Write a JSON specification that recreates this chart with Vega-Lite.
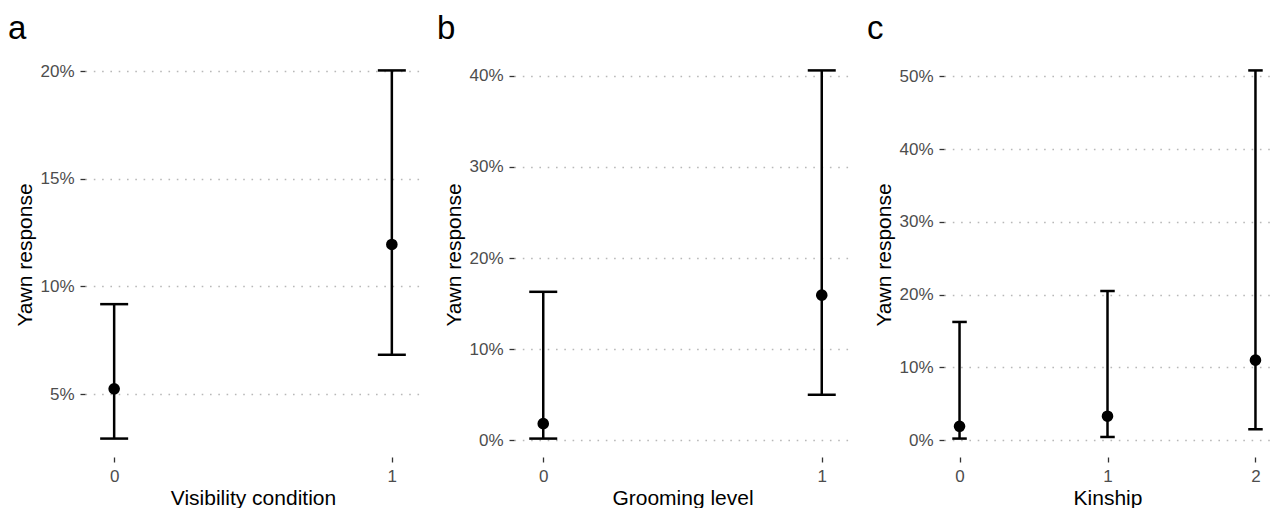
{
  "$schema": "https://vega.github.io/schema/vega-lite/v6.json",
  "background": "white",
  "padding": {"left": 7, "top": 13, "right": 0, "bottom": 0},
  "spacing": 15,
  "config": {
    "font": "Liberation Sans",
    "view": {"stroke": null},
    "axis": {
      "domain": false,
      "tickColor": "#333333",
      "tickSize": 5,
      "tickWidth": 1.3,
      "labelPadding": 6,
      "labelFontSize": 17,
      "labelColor": "#4d4d4d",
      "labelFont": "Liberation Sans",
      "titleFont": "Liberation Sans",
      "titleFontSize": 21,
      "titleFontWeight": "normal",
      "titleColor": "#000000"
    },
    "axisY": {"grid": true, "gridDash": [1.6, 6.7], "gridColor": "#b8b8b8", "gridWidth": 1.4, "titlePadding": 4},
    "axisX": {"grid": false, "titlePadding": 3},
    "title": {"fontSize": 33, "fontWeight": "normal", "anchor": "start", "frame": "bounds", "dx": -7, "offset": 6, "color": "#000000", "font": "Liberation Sans"}
  },
  "datasets": {
    "visibility": [
      {"x": 0, "est": 5.25, "lo": 2.94, "hi": 9.18},
      {"x": 1, "est": 11.95, "lo": 6.83, "hi": 20.03}
    ],
    "grooming": [
      {"x": 0, "est": 1.83, "lo": 0.19, "hi": 16.3},
      {"x": 1, "est": 15.93, "lo": 5.0, "hi": 40.6}
    ],
    "kinship": [
      {"x": 0, "est": 1.92, "lo": 0.23, "hi": 16.25},
      {"x": 1, "est": 3.3, "lo": 0.45, "hi": 20.5},
      {"x": 2, "est": 11.0, "lo": 1.51, "hi": 50.8}
    ]
  },
  "hconcat": [
    {
      "title": "a",
      "width": 336,
      "height": 405,
      "data": {"name": "visibility"},
      "encoding": {
        "x": {"field": "x", "type": "quantitative", "title": "Visibility condition",
          "scale": {"domain": [-0.105, 1.105], "nice": false, "zero": false},
          "axis": {"values": [0, 1], "format": "d"}}
      },
      "layer": [
        {"mark": {"type": "rule", "color": "black", "strokeWidth": 2.5},
         "encoding": {"y": {"field": "lo", "type": "quantitative", "title": "Yawn response",
            "scale": {"domain": [2.085, 20.885], "nice": false, "zero": false},
            "axis": {"values": [5, 10, 15, 20], "labelExpr": "datum.value + '%'"}},
           "y2": {"field": "hi"}}},
        {"mark": {"type": "tick", "orient": "horizontal", "size": 28, "thickness": 2.5, "color": "black", "opacity": 1},
         "encoding": {"y": {"field": "lo", "type": "quantitative", "title": "Yawn response"}}},
        {"mark": {"type": "tick", "orient": "horizontal", "size": 28, "thickness": 2.5, "color": "black", "opacity": 1},
         "encoding": {"y": {"field": "hi", "type": "quantitative", "title": "Yawn response"}}},
        {"mark": {"type": "point", "filled": true, "size": 135, "color": "black", "opacity": 1},
         "encoding": {"y": {"field": "est", "type": "quantitative", "title": "Yawn response"}}}
      ]
    },
    {
      "title": "b",
      "width": 337,
      "height": 405,
      "data": {"name": "grooming"},
      "encoding": {
        "x": {"field": "x", "type": "quantitative", "title": "Grooming level",
          "scale": {"domain": [-0.105, 1.105], "nice": false, "zero": false},
          "axis": {"values": [0, 1], "format": "d"}}
      },
      "layer": [
        {"mark": {"type": "rule", "color": "black", "strokeWidth": 2.5},
         "encoding": {"y": {"field": "lo", "type": "quantitative", "title": "Yawn response",
            "scale": {"domain": [-1.83, 42.62], "nice": false, "zero": false},
            "axis": {"values": [0, 10, 20, 30, 40], "labelExpr": "datum.value + '%'"}},
           "y2": {"field": "hi"}}},
        {"mark": {"type": "tick", "orient": "horizontal", "size": 28, "thickness": 2.5, "color": "black", "opacity": 1},
         "encoding": {"y": {"field": "lo", "type": "quantitative", "title": "Yawn response"}}},
        {"mark": {"type": "tick", "orient": "horizontal", "size": 28, "thickness": 2.5, "color": "black", "opacity": 1},
         "encoding": {"y": {"field": "hi", "type": "quantitative", "title": "Yawn response"}}},
        {"mark": {"type": "point", "filled": true, "size": 135, "color": "black", "opacity": 1},
         "encoding": {"y": {"field": "est", "type": "quantitative", "title": "Yawn response"}}}
      ]
    },
    {
      "title": "c",
      "width": 327,
      "height": 405,
      "data": {"name": "kinship"},
      "encoding": {
        "x": {"field": "x", "type": "quantitative", "title": "Kinship",
          "scale": {"domain": [-0.105, 2.105], "nice": false, "zero": false},
          "axis": {"values": [0, 1, 2], "format": "d"}}
      },
      "layer": [
        {"mark": {"type": "rule", "color": "black", "strokeWidth": 2.5},
         "encoding": {"y": {"field": "lo", "type": "quantitative", "title": "Yawn response",
            "scale": {"domain": [-2.3, 53.33], "nice": false, "zero": false},
            "axis": {"values": [0, 10, 20, 30, 40, 50], "labelExpr": "datum.value + '%'"}},
           "y2": {"field": "hi"}}},
        {"mark": {"type": "tick", "orient": "horizontal", "size": 14.5, "thickness": 2.5, "color": "black", "opacity": 1},
         "encoding": {"y": {"field": "lo", "type": "quantitative", "title": "Yawn response"}}},
        {"mark": {"type": "tick", "orient": "horizontal", "size": 14.5, "thickness": 2.5, "color": "black", "opacity": 1},
         "encoding": {"y": {"field": "hi", "type": "quantitative", "title": "Yawn response"}}},
        {"mark": {"type": "point", "filled": true, "size": 135, "color": "black", "opacity": 1},
         "encoding": {"y": {"field": "est", "type": "quantitative", "title": "Yawn response"}}}
      ]
    }
  ]
}
